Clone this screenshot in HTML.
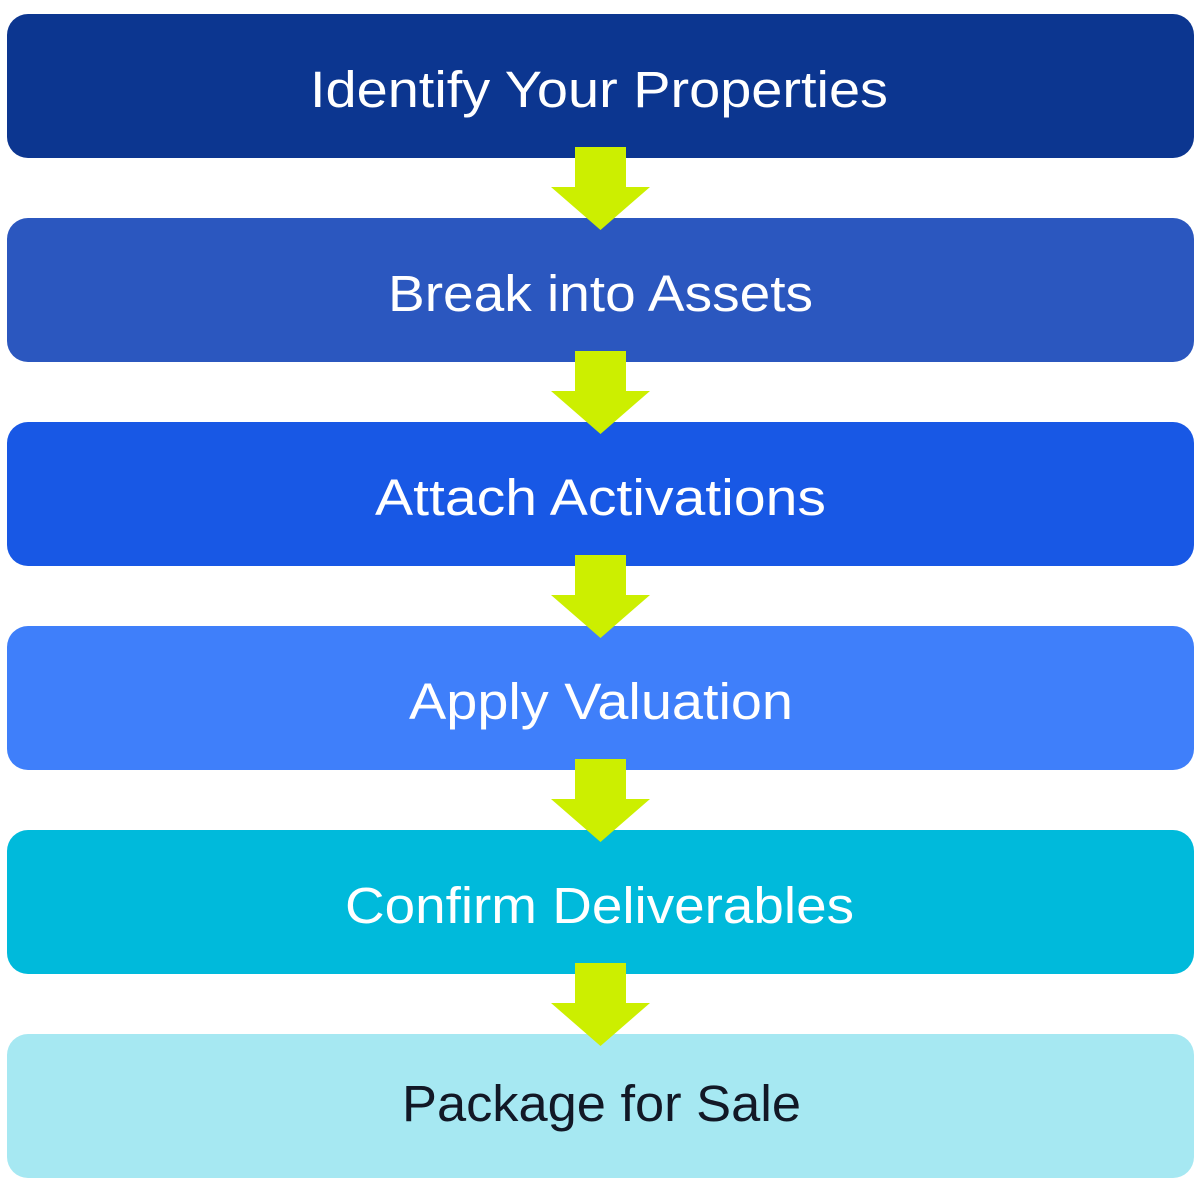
<!DOCTYPE html>
<html>
<head>
<meta charset="utf-8">
<style>
  html, body { margin: 0; padding: 0; background: #ffffff; }
  body { width: 1200px; height: 1200px; overflow: hidden; }
  svg { display: block; }
  text { font-family: "Liberation Sans", "DejaVu Sans", sans-serif; font-size: 51px; }
</style>
</head>
<body>
<svg width="1200" height="1200" viewBox="0 0 1200 1200" xmlns="http://www.w3.org/2000/svg">
  <rect x="0" y="0" width="1200" height="1200" fill="#ffffff"/>

  <!-- Boxes -->
  <rect x="7" y="14" width="1187" height="144" rx="21" ry="21" fill="#0C3690"/>
  <rect x="7" y="218" width="1187" height="144" rx="21" ry="21" fill="#2B57BF"/>
  <rect x="7" y="422" width="1187" height="144" rx="21" ry="21" fill="#1858E5"/>
  <rect x="7" y="626" width="1187" height="144" rx="21" ry="21" fill="#3F7FFA"/>
  <rect x="7" y="830" width="1187" height="144" rx="21" ry="21" fill="#00BADB"/>
  <rect x="7" y="1034" width="1187" height="144" rx="21" ry="21" fill="#A6E8F2"/>

  <!-- Arrows -->
  <g fill="#CCEF00">
    <polygon points="575,147 626,147 626,187 650,187 600.5,230 551,187 575,187"/>
    <polygon points="575,351 626,351 626,391 650,391 600.5,434 551,391 575,391"/>
    <polygon points="575,555 626,555 626,595 650,595 600.5,638 551,595 575,595"/>
    <polygon points="575,759 626,759 626,799 650,799 600.5,842 551,799 575,799"/>
    <polygon points="575,963 626,963 626,1003 650,1003 600.5,1046 551,1003 575,1003"/>
  </g>

  <!-- Labels -->
  <text x="310" y="107" fill="#ffffff" textLength="578" lengthAdjust="spacingAndGlyphs">Identify Your Properties</text>
  <text x="388" y="311" fill="#ffffff" textLength="425" lengthAdjust="spacingAndGlyphs">Break into Assets</text>
  <text x="375" y="515" fill="#ffffff" textLength="451" lengthAdjust="spacingAndGlyphs">Attach Activations</text>
  <text x="409" y="719" fill="#ffffff" textLength="384" lengthAdjust="spacingAndGlyphs">Apply Valuation</text>
  <text x="345" y="923" fill="#ffffff" textLength="509" lengthAdjust="spacingAndGlyphs">Confirm Deliverables</text>
  <text x="402" y="1121" fill="#121826" textLength="399" lengthAdjust="spacingAndGlyphs">Package for Sale</text>
</svg>
</body>
</html>
